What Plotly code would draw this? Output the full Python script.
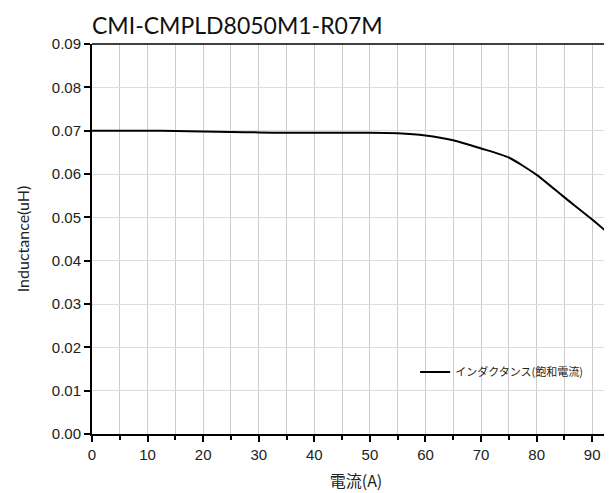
import plotly.graph_objects as go

current_a = [0, 5, 10, 15, 20, 25, 30, 35, 40, 45, 50, 55, 60, 65, 70, 75, 80, 85, 90, 95]
inductance_uh = [0.0700, 0.0700, 0.0700, 0.0699, 0.0698, 0.0697, 0.0696, 0.0695, 0.0695, 0.0695,
                 0.0695, 0.0694, 0.0689, 0.0678, 0.0659, 0.0638, 0.0598, 0.0546, 0.0495, 0.0440]
series_name = "インダクタンス(飽和電流)"
title_text = "CMI-CMPLD8050M1-R07M"
x_title = "電流(A)"
y_title = "Inductance(uH)"

fig = go.Figure()
fig.add_trace(go.Scatter(
    x=current_a, y=inductance_uh, mode="lines", name=series_name,
    line=dict(color="black", width=2, shape="spline", smoothing=0.6),
))

tick_font = dict(family="Liberation Sans, Arial, sans-serif", size=15, color="#222")

fig.update_layout(
    width=612, height=493,
    margin=dict(l=84, r=0, t=36, b=67),
    paper_bgcolor="white", plot_bgcolor="white",
    showlegend=True,
    legend=dict(
        x=0.612, y=0.159, xanchor="left", yanchor="middle",
        bgcolor="rgba(0,0,0,0)", borderwidth=0,
        font=dict(family="Noto Sans CJK JP, sans-serif", size=11, color="#222"),
        itemwidth=30,
    ),
    xaxis=dict(
        range=[0, 95], dtick=10, tick0=0,
        showgrid=True, gridcolor="#cccccc", gridwidth=1,
        minor=dict(dtick=5, showgrid=True, gridcolor="#cccccc", ticks="outside", ticklen=4, tickcolor="black", tickwidth=1.5),
        ticks="outside", ticklen=6, tickwidth=1.5, tickcolor="black",
        showline=True, linecolor="black", linewidth=2,
        zeroline=False, tickfont=tick_font,
        title=dict(text=x_title, font=dict(family="Noto Sans CJK JP, sans-serif", size=16, color="#222"), standoff=14),
    ),
    yaxis=dict(
        range=[0, 0.09], dtick=0.01, tickformat=".2f",
        showgrid=True, gridcolor="#dcdcdc", gridwidth=1,
        ticks="outside", ticklen=6, tickwidth=1.5, tickcolor="black",
        showline=True, linecolor="black", linewidth=2,
        zeroline=False, tickfont=tick_font,
        title=dict(text=y_title, font=dict(family="Lato, sans-serif", size=16, color="#222"), standoff=18),
    ),
    shapes=[dict(type="line", xref="paper", yref="paper", x0=0, x1=1, y0=1, y1=1,
                 line=dict(color="black", width=1.5))],
    annotations=[dict(text=title_text, xref="paper", yref="paper", x=-0.003, y=1.0,
                      xanchor="left", yanchor="bottom", showarrow=False, yshift=3,
                      font=dict(family="Lato, sans-serif", size=23, color="#111"))],
)

fig.write_html("out.html")
